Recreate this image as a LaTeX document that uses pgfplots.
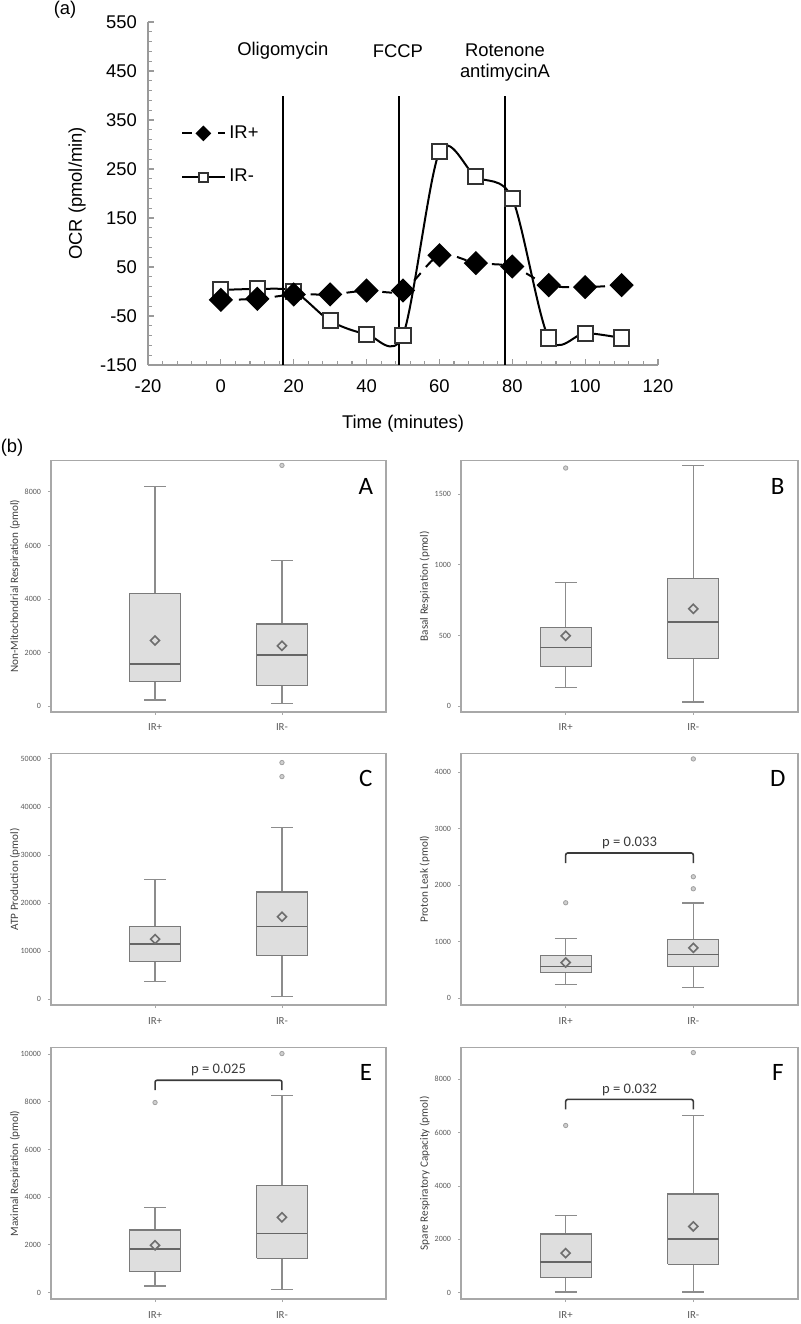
\documentclass[border=0pt]{standalone}
\usepackage{pgfplots}
\pgfplotsset{compat=1.18}
\usepackage{fontspec}
\setmainfont{Liberation Sans}
\newfontfamily\carlito{Carlito}

\definecolor{framegray}{HTML}{A8A8A8}
\definecolor{boxedge}{HTML}{7A7A7A}
\definecolor{boxfill}{HTML}{DEDEDE}
\definecolor{whisk}{HTML}{8C8C8C}
\definecolor{medgray}{HTML}{666666}
\definecolor{outdraw}{HTML}{A0A0A0}
\definecolor{outfill}{HTML}{CFCFCF}
\definecolor{meangray}{HTML}{6E6E6E}
\definecolor{labgray}{HTML}{5A5A5A}
\definecolor{ylabgray}{HTML}{404040}
\definecolor{brk}{HTML}{3A3A3A}
\definecolor{spine}{HTML}{9A9A9A}

\pgfplotsset{
  panel/.style={
    scale only axis, width=167.5pt, height=125.8pt, anchor=south west,
    xmin=0.18, xmax=2.82, xtick={1,2}, xticklabels={IR+,IR-},
    axis line style={framegray, line width=0.7pt},
    tick style={framegray, line width=0.4pt},
    tick align=outside, major tick length=1.5pt,
    xtick pos=left, ytick pos=left,
    scaled y ticks=false,
    /pgf/number format/1000 sep={},
    /pgf/number format/assume math mode=true,
    xticklabel style={font=\carlito\fontsize{5.4}{6}\selectfont, text=labgray, yshift=-1pt},
    yticklabel style={font=\carlito\fontsize{4}{5}\selectfont, text=labgray},
    every axis y label/.style={at={(axis description cs:-0.108,0.5)}, rotate=90,
      anchor=center, font=\carlito\fontsize{5.6}{6}\selectfont, text=ylabgray},
  },
  wline/.style={whisk, line width=0.6pt},
  boxs/.style={draw=boxedge, fill=boxfill, line width=0.6pt},
  meds/.style={medgray, line width=0.8pt},
  outl/.style={only marks, mark=*, mark size=1.1pt,
    mark options={draw=outdraw, fill=outfill, line width=0.4pt}},
  mean/.style={only marks, mark=square*, mark size=1.6pt,
    mark options={rotate=45, draw=meangray, fill=boxfill, line width=0.8pt}},
  pbracket/.style={brk, line width=0.8pt, rounded corners=1pt},
}
\tikzset{
  ptext/.style={font=\carlito\fontsize{7.3}{8}\selectfont, text=brk},
  letter/.style={font=\carlito\fontsize{12.5}{14}\selectfont},
  toplab/.style={font=\fontsize{9.2}{11}\selectfont},
}

% box at x=1 / x=2: lower whisker, lower quartile, median, upper quartile, upper whisker
\newcommand{\boxL}[5]{%
  \addplot[wline] coordinates {(1,#2) (1,#1)};
  \addplot[wline] coordinates {(0.915,#1) (1.085,#1)};
  \addplot[wline] coordinates {(1,#4) (1,#5)};
  \addplot[wline] coordinates {(0.915,#5) (1.085,#5)};
  \addplot[boxs] coordinates {(0.8,#2) (1.2,#2) (1.2,#4) (0.8,#4) (0.8,#2)};
  \addplot[meds] coordinates {(0.8,#3) (1.2,#3)};
}
\newcommand{\boxR}[5]{%
  \addplot[wline] coordinates {(2,#2) (2,#1)};
  \addplot[wline] coordinates {(1.915,#1) (2.085,#1)};
  \addplot[wline] coordinates {(2,#4) (2,#5)};
  \addplot[wline] coordinates {(1.915,#5) (2.085,#5)};
  \addplot[boxs] coordinates {(1.8,#2) (2.2,#2) (2.2,#4) (1.8,#4) (1.8,#2)};
  \addplot[meds] coordinates {(1.8,#3) (2.2,#3)};
}

\begin{document}
\begin{tikzpicture}
\useasboundingbox (0,0) rectangle (400pt,662pt);

% (a) oxygen consumption time course
\begin{axis}[
  scale only axis, width=255pt, height=171.5pt, anchor=south west,
  at={(74pt,479.5pt)},
  xmin=-20, xmax=120, ymin=-150, ymax=550,
  axis x line=bottom, axis y line=left,
  axis line style={spine, line width=0.7pt, -},
  xtick={-20,0,...,120}, ytick={-150,-50,...,550},
  minor x tick num=4, minor y tick num=4,
  tick align=inside, major tick length=3pt, minor tick length=2.2pt,
  tick style={spine, line width=0.6pt},
  /pgf/number format/assume math mode=true,
  ticklabel style={font=\fontsize{9.2}{11}\selectfont},
  xticklabel style={yshift=-4pt},
  yticklabel style={xshift=-2pt},
  xlabel={Time (minutes)}, ylabel={OCR (pmol/min)},
  every axis x label/.style={at={(axis description cs:0.5,-0.17)}, anchor=center,
    font=\fontsize{9.2}{11}\selectfont},
  every axis y label/.style={at={(axis description cs:-0.139,0.5)}, rotate=90,
    anchor=center, font=\fontsize{9.2}{11}\selectfont},
  legend style={at={(axis cs:-12.6,278)}, anchor=west, draw=none, fill=none,
    font=\fontsize{9.2}{11}\selectfont, row sep=10pt},
  legend cell align=left, reverse legend,
  legend image code/.code={\draw[mark repeat=2, mark phase=2, #1,
    every mark/.append style={scale=0.6}]
    plot coordinates {(0pt,0pt) (10.5pt,0pt) (21pt,0pt)};},
  clip=false,
]
\addplot[black, line width=0.9pt, forget plot] coordinates {(17,-150) (17,398)};
\addplot[black, line width=0.9pt, forget plot] coordinates {(48.9,-150) (48.9,398)};
\addplot[black, line width=0.9pt, forget plot] coordinates {(78,-150) (78,398)};

\addplot[black, line width=1pt, smooth, mark=square*, mark size=3.8pt,
  mark options={draw=black!80, fill=white, line width=1pt}]
  coordinates {(0,3) (10,5) (20,0) (30,-60) (40,-87) (50,-89)
    (60,285) (70,234) (80,190) (90,-95) (100,-85) (110,-95)};
\addlegendentry{IR-}

\addplot[black, line width=1pt, smooth, dash pattern=on 5pt off 4pt,
  mark=square*, mark size=3.8pt,
  mark options={solid, rotate=45, fill=black, draw=black}]
  coordinates {(0,-17) (10,-15) (20,-6) (30,-6) (40,2) (50,2)
    (60,74) (70,58) (80,51) (90,13) (100,9) (110,13)};
\addlegendentry{IR+}

\node[toplab] at (axis cs:17,491) {Oligomycin};
\node[toplab] at (axis cs:48.6,491) {FCCP};
\node[toplab] at (axis cs:78,492) {Rotenone};
\node[toplab] at (axis cs:78,447) {antimycinA};
\end{axis}

\node[toplab] at (32.5pt,657pt) {(a)};
\node[toplab] at (6pt,438pt) {(b)};

% A
\begin{axis}[panel, at={(25.5pt,306pt)}, ymin=-225, ymax=9176,
  ytick={0,2000,...,8000}, ylabel={Non-Mitochondrial Respiration (pmol)}]
\boxL{225}{910}{1562}{4195}{8190}
\boxR{90}{760}{1898}{3060}{5442}
\addplot[outl] coordinates {(2,8989)};
\addplot[mean] coordinates {(1,2446) (2,2247)};
\node[letter] at (rel axis cs:0.94,0.895) {A};
\end{axis}

% B
\begin{axis}[panel, at={(230.5pt,306pt)}, width=168.5pt, ymin=-40, ymax=1737,
  ytick={0,500,1000,1500}, ylabel={Basal Respiration (pmol)}]
\boxL{134}{283}{416}{557}{873}
\boxR{30}{335}{597}{904}{1702}
\addplot[outl] coordinates {(1,1683)};
\addplot[mean] coordinates {(1,498) (2,689)};
\node[letter] at (rel axis cs:0.94,0.895) {B};
\end{axis}

% C
\begin{axis}[panel, at={(25.5pt,159.4pt)}, ymin=-1250, ymax=51100,
  ytick={0,10000,...,50000}, ylabel={ATP Production (pmol)}]
\boxL{3667}{7833}{11521}{15063}{24917}
\boxR{480}{9083}{15125}{22292}{35750}
\addplot[outl] coordinates {(2,49229) (2,46313)};
\addplot[mean] coordinates {(1,12500) (2,17146)};
\node[letter] at (rel axis cs:0.94,0.9) {C};
\end{axis}

% D
\begin{axis}[panel, at={(230.5pt,159.4pt)}, width=168.5pt, ymin=-124, ymax=4324,
  ytick={0,1000,...,4000}, ylabel={Proton Leak (pmol)}]
\boxL{235}{460}{560}{754}{1062}
\boxR{188}{560}{772}{1037}{1681}
\addplot[outl] coordinates {(1,1687) (2,1934) (2,2147) (2,4230)};
\addplot[mean] coordinates {(1,630) (2,890)};
\addplot[pbracket] coordinates {(1,2389) (1,2566) (2,2566) (2,2389)};
\node[ptext] at (axis cs:1.5,2743) {p = 0.033};
\node[letter] at (rel axis cs:0.94,0.9) {D};
\end{axis}

% E
\begin{axis}[panel, at={(25.5pt,12.4pt)}, ymin=-276, ymax=10268,
  ytick={0,2000,...,10000}, ylabel={Maximal Respiration (pmol)}]
\boxL{280}{879}{1816}{2623}{3573}
\boxR{142}{1439}{2485}{4494}{8259}
\addplot[outl] coordinates {(1,7966) (2,10017)};
\addplot[mean] coordinates {(1,1983) (2,3155)};
\addplot[pbracket] coordinates {(1,8481) (1,8900) (2,8900) (2,8481)};
\node[ptext] at (axis cs:1.5,9347) {p = 0.025};
\node[letter] at (rel axis cs:0.94,0.9) {E};
\end{axis}

% F
\begin{axis}[panel, at={(230.5pt,12.4pt)}, width=168.5pt, ymin=-248, ymax=9188,
  ytick={0,2000,...,8000}, ylabel={Spare Respiratory Capacity (pmol)}]
\boxL{20}{564}{1143}{2195}{2895}
\boxR{20}{1068}{2008}{3699}{6654}
\addplot[outl] coordinates {(1,6267) (2,9000)};
\addplot[mean] coordinates {(1,1481) (2,2481)};
\addplot[pbracket] coordinates {(1,6868) (1,7244) (2,7244) (2,6868)};
\node[ptext] at (axis cs:1.5,7609) {p = 0.032};
\node[letter] at (rel axis cs:0.94,0.9) {F};
\end{axis}
\end{tikzpicture}
\end{document}
